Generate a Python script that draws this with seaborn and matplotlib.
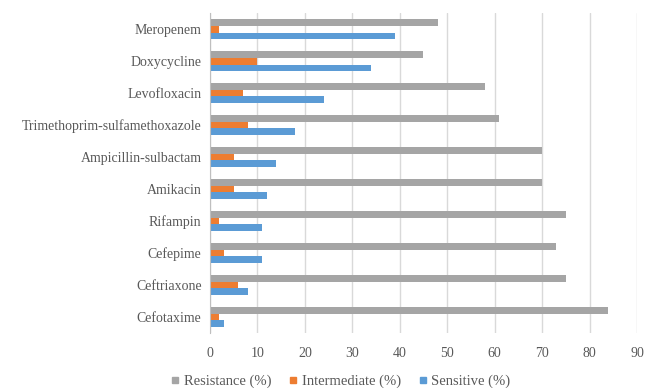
import pandas as pd
import seaborn as sns
import matplotlib.pyplot as plt

# antibiotics listed top to bottom as in the chart
drugs = ["Meropenem", "Doxycycline", "Levofloxacin", "Trimethoprim-sulfamethoxazole",
         "Ampicillin-sulbactam", "Amikacin", "Rifampin", "Cefepime", "Ceftriaxone", "Cefotaxime"]
resistance = [48, 45, 58, 61, 70, 70, 75, 73, 75, 84]
intermediate = [2, 10, 7, 8, 5, 5, 2, 3, 6, 2]
sensitive = [39, 34, 24, 18, 14, 12, 11, 11, 8, 3]

series = ["Resistance (%)", "Intermediate (%)", "Sensitive (%)"]
colors = ["#A5A5A5", "#ED7D31", "#5B9BD5"]

df = pd.DataFrame({"drug": drugs, series[0]: resistance,
                   series[1]: intermediate, series[2]: sensitive})
df = df.melt(id_vars="drug", var_name="group", value_name="value")

sns.set_style("white")
plt.rcParams["font.family"] = ["Liberation Serif", "DejaVu Serif"]
txt = "#595959"

fig = plt.figure(figsize=(6.46, 3.88), dpi=100)
ax = fig.add_axes([0.325, 0.142, 0.661, 0.824])

sns.barplot(data=df, x="value", y="drug", hue="group", order=drugs, hue_order=series,
            palette=colors, orient="h", width=0.63, saturation=1, linewidth=0,
            ax=ax, legend=False)

ax.set_xlim(0, 90)
ax.set_xticks(range(0, 91, 10))
ax.grid(axis="x", color="#D9D9D9", linewidth=1)
ax.set_axisbelow(True)
for s in ["top", "right", "bottom"]:
    ax.spines[s].set_visible(False)
ax.spines["left"].set_color("#BFBFBF")
ax.set_xlabel("")
ax.set_ylabel("")
ax.tick_params(axis="both", length=0, labelsize=10, colors=txt)
ax.tick_params(axis="x", pad=10)
ax.tick_params(axis="y", pad=6)

handles = [plt.Line2D([], [], marker="s", linestyle="", color=c, markersize=5) for c in colors]
fig.legend(handles, series, loc="lower center", bbox_to_anchor=(0.527, -0.035), ncol=3,
           frameon=False, fontsize=10.5, labelcolor=txt, handlelength=0.6,
           handletextpad=0.3, columnspacing=1.2)

fig.savefig("out.png", dpi=100)
